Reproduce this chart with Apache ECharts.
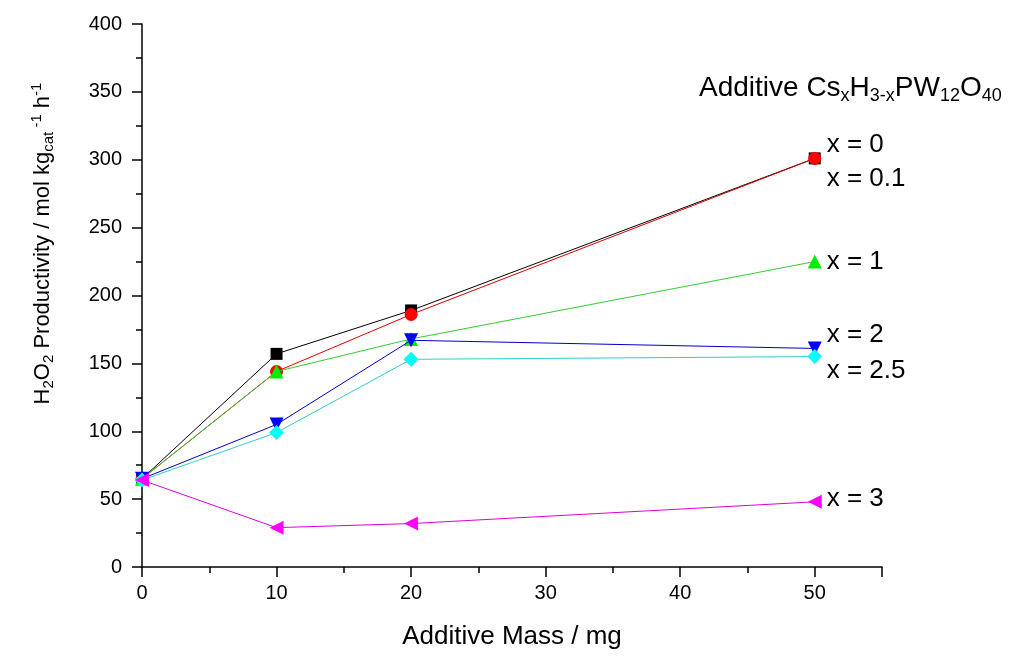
<!DOCTYPE html>
<html>
<head>
<meta charset="utf-8">
<script src="https://cdn.jsdelivr.net/npm/echarts@6/dist/echarts.min.js"></script>
<style>html,body{margin:0;padding:0;background:#fff;}#c{width:1009px;height:656px;}</style>
</head>
<body>
<div id="c"></div>
<script>
const mass = [0, 10, 20, 50];
const x0 = [65, 157, 189, 301];
const x01 = [65, 144, 186, 301];
const x1 = [65, 144, 168, 225];
const x2 = [65, 105, 167, 161];
const x25 = [64, 99, 153, 155];
const x3 = [64, 29, 32, 48];
const seriesNames = ['x = 0', 'x = 0.1', 'x = 1', 'x = 2', 'x = 2.5', 'x = 3'];
const seriesData = [x0, x01, x1, x2, x25, x3];
const colors = ['#000000', '#ff0000', '#00ee00', '#0000ff', '#00ffff', '#ff00ff'];
const lineColors = ['#000000', '#dd0000', '#33cc33', '#0000cc', '#33cccc', '#dd00dd'];
const symbols = ['rect', 'circle', 'triangle', 'triangle', 'diamond', 'triangle'];
const rotates = [0, 0, 0, 180, 0, 90];
const sizes = [12, 13, 14, 14, 15, 14];
const labelOffsets = [[2, -14], [2, 20], [2, 0], [2, -14], [2, 14], [2, -3]];

const FONT = 'Liberation Sans, Arial, sans-serif';
const chart = echarts.init(document.getElementById('c'));
chart.setOption({
  animation: false,
  backgroundColor: '#fff',
  title: {
    left: 694, top: 67,
    text: 'Additive Cs{s|x}H{s|3-x}PW{s|12}O{s|40}',
    textStyle: {
      fontFamily: FONT, fontSize: 28, fontWeight: 'normal', color: '#000',
      rich: { s: { fontFamily: FONT, fontSize: 18, verticalAlign: 'bottom', padding: [15, 0, 0, 0], color: '#000' } }
    }
  },
  grid: { left: 142, right: 127, top: 24, bottom: 89, containLabel: false },
  xAxis: {
    type: 'value', min: 0, max: 55, interval: 10,
    name: 'Additive Mass / mg', nameLocation: 'middle', nameGap: 57,
    nameTextStyle: { fontFamily: FONT, fontSize: 26, color: '#000' },
    axisLine: { show: true, onZero: false, lineStyle: { color: '#000', width: 1.5 } },
    axisTick: { show: true, length: 10, lineStyle: { color: '#000', width: 1.5 } },
    minorTick: { show: true, splitNumber: 2, length: 6, lineStyle: { color: '#000', width: 1.5 } },
    axisLabel: { fontFamily: FONT, fontSize: 20, color: '#000', margin: 16,
      formatter: v => (v <= 50 ? String(v) : '') },
    splitLine: { show: false }
  },
  yAxis: {
    type: 'value', min: 0, max: 400, interval: 50,
    name: 'H{sub|2}O{sub|2} Productivity / mol kg{sub|cat}{sup| -1} h{sup|-1}',
    nameLocation: 'middle', nameGap: 86, nameRotate: 90,
    nameTextStyle: {
      fontFamily: FONT, fontSize: 22, color: '#000', padding: [0, 0, 0, 104],
      rich: {
        sub: { fontFamily: FONT, fontSize: 15, color: '#000', verticalAlign: 'bottom', padding: [12, 0, 0, 0] },
        sup: { fontFamily: FONT, fontSize: 15, color: '#000', verticalAlign: 'top', padding: [0, 0, 12, 0] }
      }
    },
    axisLine: { show: true, lineStyle: { color: '#000', width: 1.5 } },
    axisTick: { show: true, length: 10, lineStyle: { color: '#000', width: 1.5 } },
    minorTick: { show: true, splitNumber: 2, length: 6, lineStyle: { color: '#000', width: 1.5 } },
    axisLabel: { fontFamily: FONT, fontSize: 20, color: '#000', margin: 20 },
    splitLine: { show: false }
  },
  series: seriesData.map((d, i) => ({
    type: 'line',
    name: seriesNames[i],
    data: mass.map((m, j) => [m, d[j]]),
    symbol: symbols[i],
    symbolRotate: rotates[i],
    symbolSize: sizes[i],
    showAllSymbol: true,
    lineStyle: { color: lineColors[i], width: 1 },
    itemStyle: { color: colors[i] },
    endLabel: {
      show: true, formatter: seriesNames[i], offset: labelOffsets[i],
      fontFamily: FONT, fontSize: 26, color: '#000', distance: 10
    },
    z: 2 + i
  }))
});
</script>
</body>
</html>
